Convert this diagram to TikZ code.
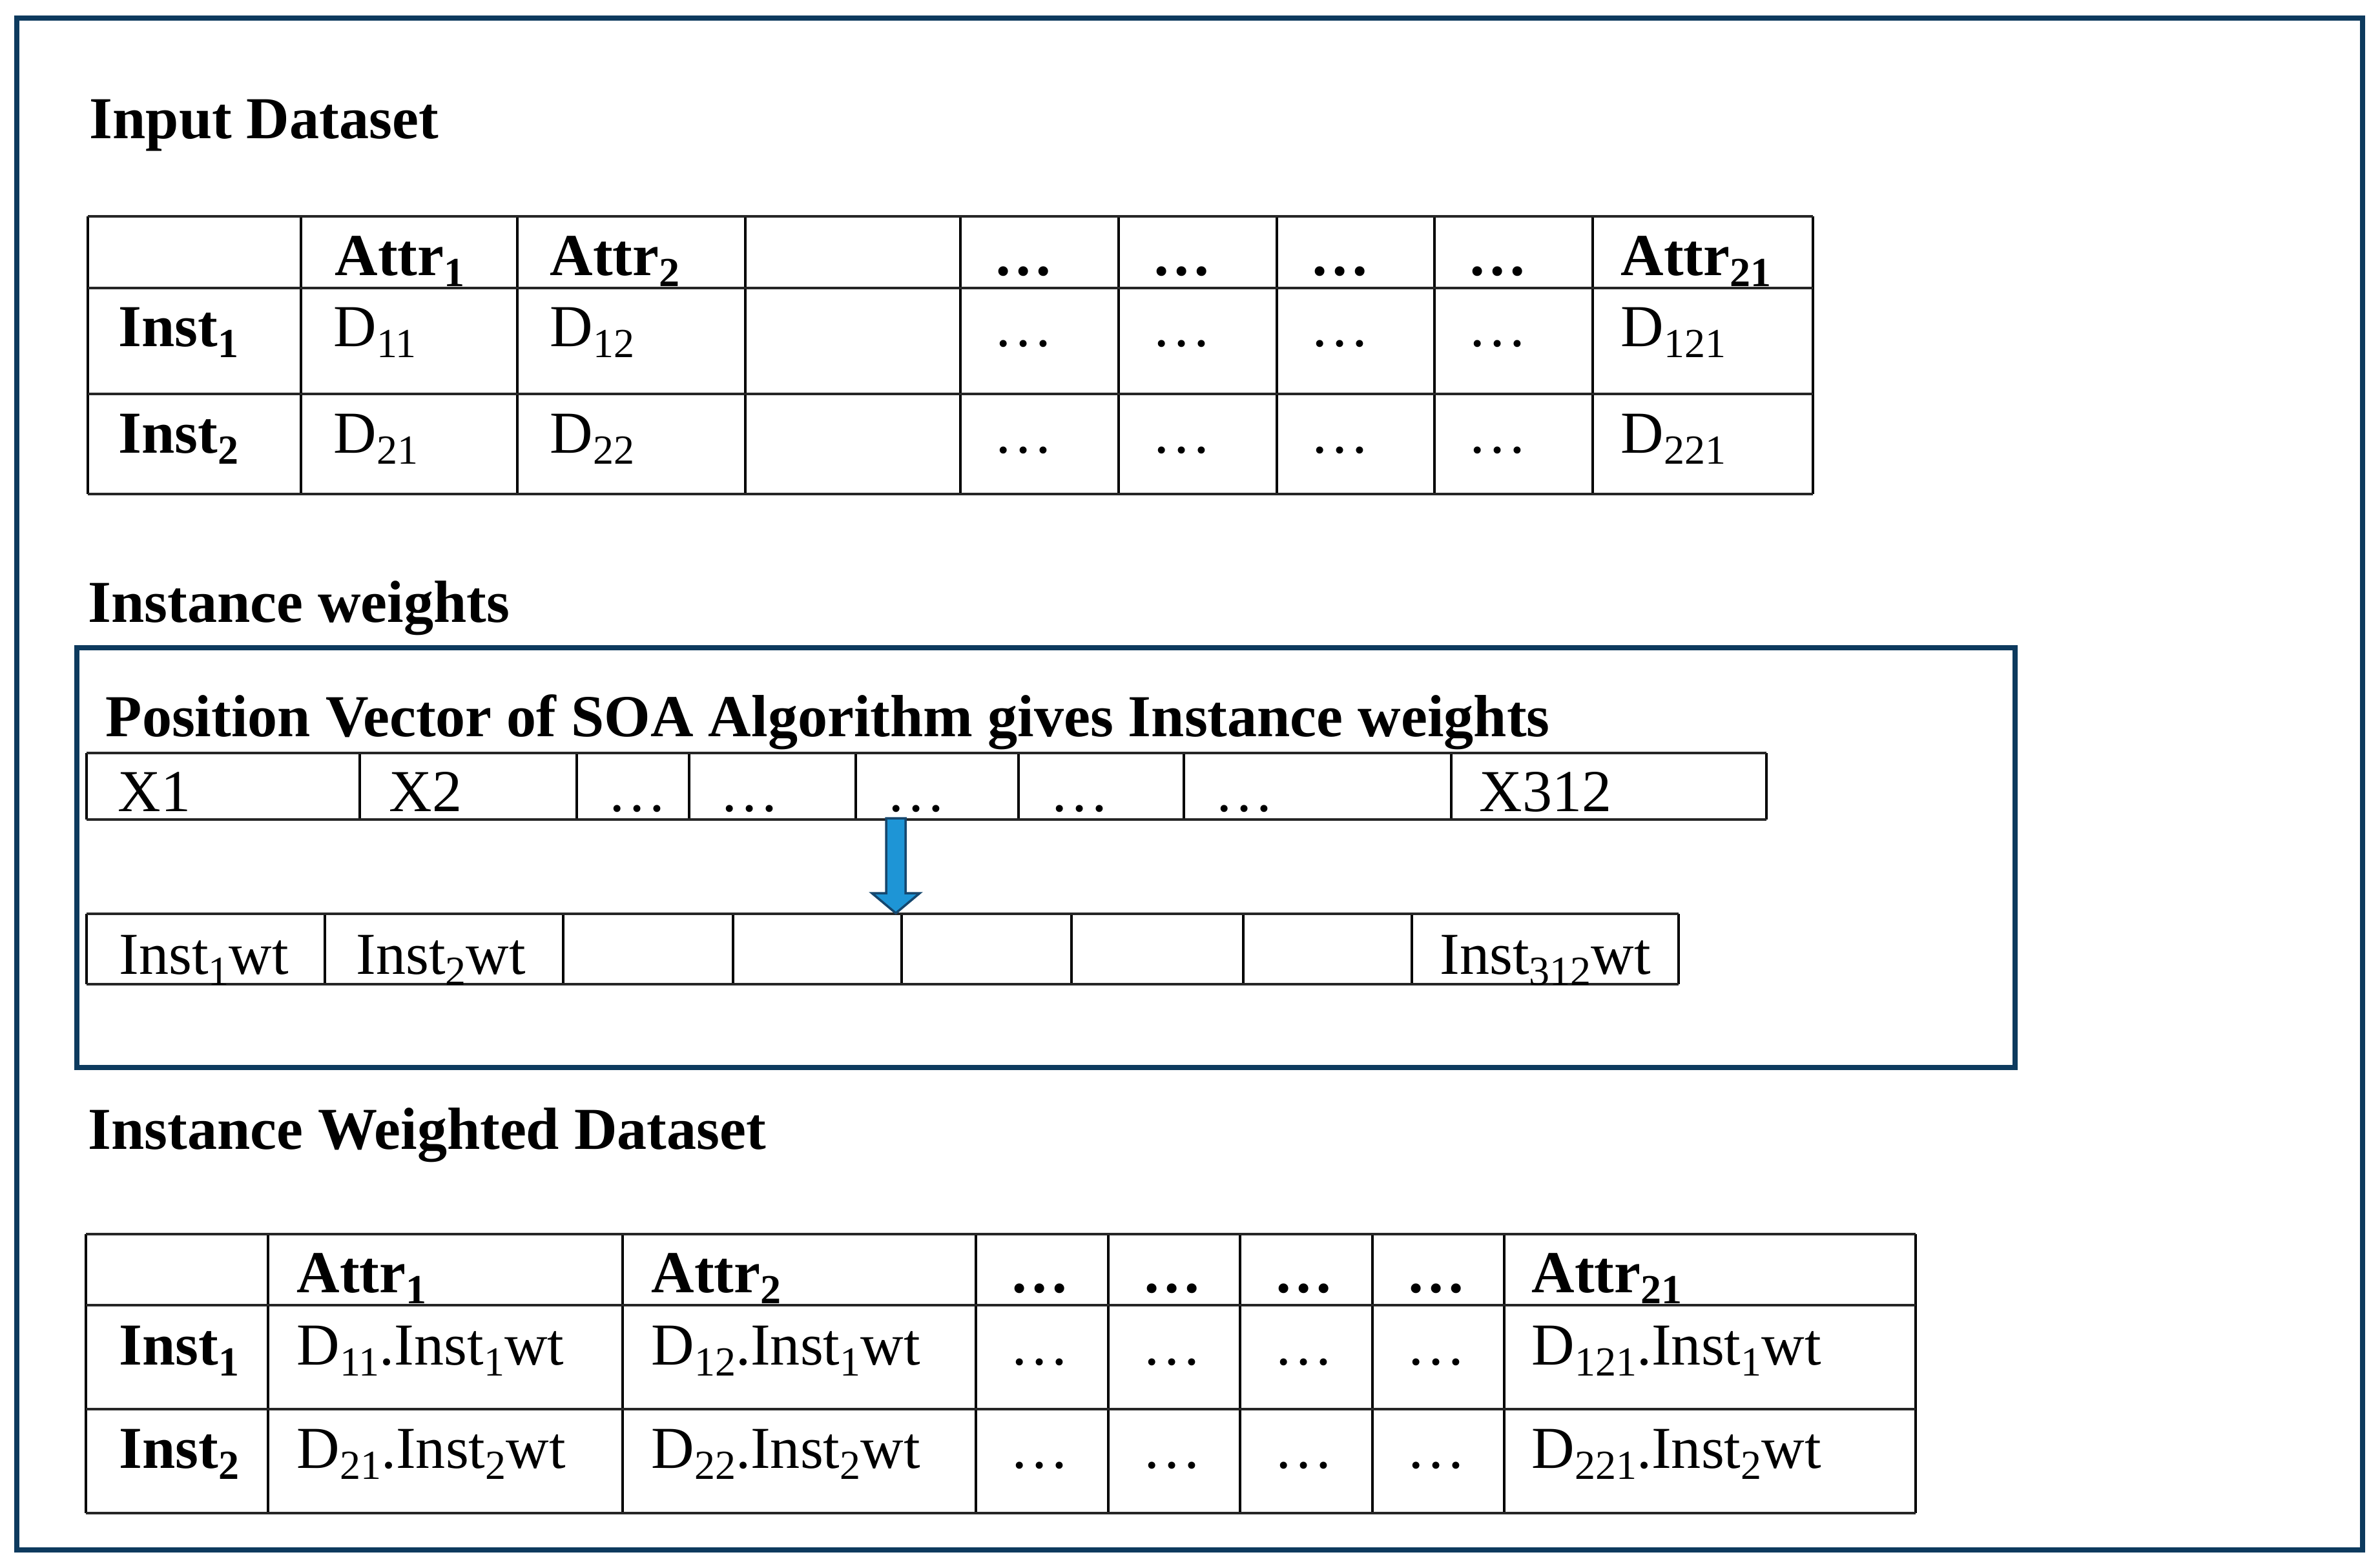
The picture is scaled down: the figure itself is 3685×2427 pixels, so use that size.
\documentclass[tikz,border=0pt]{standalone}
\usepackage{fontspec}
\setmainfont{Liberation Serif}
\usetikzlibrary{calc}
\definecolor{navy}{HTML}{0D3A5E}
\definecolor{arrblue}{HTML}{1E95D6}
\definecolor{arredge}{HTML}{15476E}
\newcommand\sbx[1]{\raisebox{-0.19em}{\fontsize{18.2pt}{20pt}\selectfont #1}}
\newcommand\mainsz{\fontsize{26.2pt}{31pt}\selectfont}
\begin{document}
\begin{tikzpicture}[x=0.01cm,y=-0.01cm,
  txt/.style={anchor=base west,inner sep=0pt,font=\mainsz},
  btxt/.style={anchor=base west,inner sep=0pt,font=\mainsz\bfseries},
  hline/.style={line width=1.4pt,draw=black!85},
  vline/.style={line width=1pt,draw=black},
  frame/.style={line width=2.3pt,draw=navy},
  arrsty/.style={fill=arrblue,draw=arredge,line width=1pt,line join=miter}]
\fill[white] (0,0) rectangle (3685,2427);
\useasboundingbox (0,0) rectangle (3685,2427);
% outer frame
\draw[frame] (26,28) rectangle (3658,2400);

% ---------- Input Dataset ----------
\node[btxt] (title1) at (138,214) {Input Dataset};
\foreach \x in {136,466,801,1154,1487,1732,1977,2221,2466,2807}
  \draw[vline] (\x,335) -- (\x,765);
\foreach \y in {335,446,610,765}
  \draw[hline] (136,\y) -- (2807,\y);
\node[btxt] (a1h1) at (518,426) {Attr\sbx{1}};
\node[btxt] (a1h2) at (851,426) {Attr\sbx{2}};
\foreach \x [count=\i] in {1538,1783,2028,2272}
  \node[btxt] (a1hd\i) at (\x,426) {…};
\node[btxt] (a1h21) at (2509,426) {Attr\sbx{21}};
\node[btxt] (a1r1) at (183,536) {Inst\sbx{1}};
\node[txt] (a1d11) at (516,536) {D\sbx{11}};
\node[txt] (a1d12) at (851,536) {D\sbx{12}};
\foreach \x [count=\i] in {1538,1783,2028,2272}
  \node[txt] (a1r1d\i) at (\x,536) {…};
\node[txt] (a1d121) at (2509,536) {D\sbx{121}};
\node[btxt] (a1r2) at (183,701) {Inst\sbx{2}};
\node[txt] (a1d21) at (516,701) {D\sbx{21}};
\node[txt] (a1d22) at (851,701) {D\sbx{22}};
\foreach \x [count=\i] in {1538,1783,2028,2272}
  \node[txt] (a1r2d\i) at (\x,701) {…};
\node[txt] (a1d221) at (2509,701) {D\sbx{221}};

% ---------- Instance weights ----------
\node[btxt] (title2) at (136,963) {Instance weights};
\draw[frame] (119,1003) rectangle (3120,1653);
\node[btxt] (pvtitle) at (163,1140) {Position Vector of SOA Algorithm gives Instance weights};
% X row
\foreach \x in {134,557,893,1067,1325,1577,1833,2247,2735}
  \draw[vline] (\x,1166) -- (\x,1269);
\foreach \y in {1166,1269}
  \draw[hline] (134,\y) -- (2735,\y);
\node[txt] (x1) at (182,1256) {X1};
\node[txt] (x2) at (602,1256) {X2};
\foreach \x [count=\i] in {940,1114,1372,1625,1880}
  \node[txt] (xd\i) at (\x,1256) {…};
\node[txt] (x312) at (2290,1256) {X312};
% Inst weight row
\foreach \x in {134,503,872,1135,1396,1659,1925,2186,2599}
  \draw[vline] (\x,1415) -- (\x,1524);
\foreach \y in {1415,1524}
  \draw[hline] (134,\y) -- (2599,\y);
\node[txt] (w1) at (184,1508) {Inst\sbx{1}wt};
\node[txt] (w2) at (551,1508) {Inst\sbx{2}wt};
\node[txt] (w312) at (2229,1508) {Inst\sbx{312}wt};
% arrow
\coordinate (aS) at (1387,1267);
\coordinate (aT) at (1387,1414);
\draw[arrsty] ($(aS)+(-15,0)$) -- ($(aS)+(15,0)$) -- ($(aT)+(15,-31)$)
  -- ($(aT)+(37,-31)$) -- (aT) -- ($(aT)+(-37,-31)$) -- ($(aT)+(-15,-31)$) -- cycle;

% ---------- Instance Weighted Dataset ----------
\node[btxt] (title3) at (136,1779) {Instance Weighted Dataset};
\foreach \x in {133,415,964,1511,1716,1920,2125,2329,2966}
  \draw[vline] (\x,1911) -- (\x,2343);
\foreach \y in {1911,2021,2182,2343}
  \draw[hline] (133,\y) -- (2966,\y);
\node[btxt] (b1h1) at (459,2001) {Attr\sbx{1}};
\node[btxt] (b1h2) at (1008,2001) {Attr\sbx{2}};
\foreach \x [count=\i] in {1563,1768,1972,2177}
  \node[btxt] (b1hd\i) at (\x,2001) {…};
\node[btxt] (b1h21) at (2371,2001) {Attr\sbx{21}};
\node[btxt] (b1r1) at (184,2113) {Inst\sbx{1}};
\node[txt] (b1d11) at (459,2113) {D\sbx{11}.Inst\sbx{1}wt};
\node[txt] (b1d12) at (1008,2113) {D\sbx{12}.Inst\sbx{1}wt};
\foreach \x [count=\i] in {1563,1768,1972,2177}
  \node[txt] (b1r1d\i) at (\x,2113) {…};
\node[txt] (b1d121) at (2371,2113) {D\sbx{121}.Inst\sbx{1}wt};
\node[btxt] (b1r2) at (184,2273) {Inst\sbx{2}};
\node[txt] (b1d21) at (459,2273) {D\sbx{21}.Inst\sbx{2}wt};
\node[txt] (b1d22) at (1008,2273) {D\sbx{22}.Inst\sbx{2}wt};
\foreach \x [count=\i] in {1563,1768,1972,2177}
  \node[txt] (b1r2d\i) at (\x,2273) {…};
\node[txt] (b1d221) at (2371,2273) {D\sbx{221}.Inst\sbx{2}wt};
\end{tikzpicture}
\end{document}
